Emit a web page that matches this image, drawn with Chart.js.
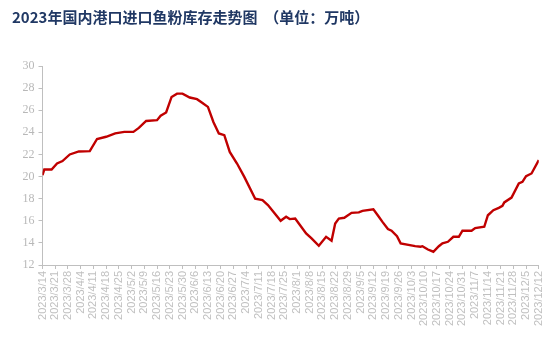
<!DOCTYPE html>
<html>
<head>
<meta charset="utf-8">
<script src="https://cdn.jsdelivr.net/npm/chart.js@4"></script>
<style>
  html, body { margin: 0; padding: 0; background: #fff; }
  #wrap { width: 554px; height: 339px; }
</style>
</head>
<body>
<div id="wrap"><canvas id="stockChart" width="554" height="339"></canvas></div>
<script>
// days counted from 2023/3/14
const dayOffsets = [0, 1, 5, 8, 11, 15, 20, 26, 30, 35, 40, 45, 50, 53, 57, 63, 65, 68, 71, 74, 77, 81, 85, 88, 91, 94, 97, 100, 103, 107, 111, 117, 121, 124, 131, 134, 136, 139, 141, 145, 148, 152, 156, 159, 161, 163, 166, 170, 174, 176, 182, 185, 187, 190, 192, 195, 197, 205, 208, 209, 212, 215, 218, 220, 223, 226, 229, 231, 236, 238, 243, 245, 248, 251, 253, 254, 258, 262, 264, 266, 269, 273];
const inventory = [20.13, 20.64, 20.64, 21.18, 21.4, 22.0, 22.27, 22.3, 23.4, 23.6, 23.9, 24.04, 24.04, 24.4, 25.03, 25.1, 25.5, 25.8, 27.2, 27.5, 27.5, 27.15, 27.0, 26.66, 26.3, 24.94, 23.9, 23.74, 22.23, 21.18, 19.97, 18.0, 17.87, 17.42, 16.0, 16.36, 16.15, 16.2, 15.76, 14.86, 14.4, 13.74, 14.55, 14.2, 15.76, 16.2, 16.27, 16.72, 16.76, 16.9, 17.03, 16.36, 15.9, 15.25, 15.1, 14.6, 13.96, 13.71, 13.65, 13.7, 13.4, 13.2, 13.7, 13.96, 14.1, 14.55, 14.55, 15.1, 15.1, 15.34, 15.46, 16.5, 16.96, 17.17, 17.35, 17.66, 18.1, 19.38, 19.52, 20.04, 20.28, 21.48];
const tickLabels = ["2023/3/14", "2023/3/21", "2023/3/28", "2023/4/4", "2023/4/11", "2023/4/18", "2023/4/25", "2023/5/2", "2023/5/9", "2023/5/16", "2023/5/23", "2023/5/30", "2023/6/6", "2023/6/13", "2023/6/20", "2023/6/27", "2023/7/4", "2023/7/11", "2023/7/18", "2023/7/25", "2023/8/1", "2023/8/8", "2023/8/15", "2023/8/22", "2023/8/29", "2023/9/5", "2023/9/12", "2023/9/19", "2023/9/26", "2023/10/3", "2023/10/10", "2023/10/17", "2023/10/24", "2023/10/31", "2023/11/7", "2023/11/14", "2023/11/21", "2023/11/28", "2023/12/5", "2023/12/12"];

const axisGray = "#bfbfbf";

const ctx = document.getElementById("stockChart").getContext("2d");
new Chart(ctx, {
    type: "line",
    data: {
        datasets: [{
            label: "鱼粉库存",
            data: dayOffsets.map((d, i) => ({ x: d, y: inventory[i] })),
            borderColor: "#c00000",
            borderWidth: 2.4,
            pointRadius: 0,
            fill: false,
            tension: 0
        }]
    },
    options: {
        responsive: false,
        animation: false,
        layout: { padding: { left: 12, right: 10, top: 0, bottom: 0 } },
        scales: {
            x: {
                type: "linear",
                min: 0,
                max: 273,
                afterFit: (scale) => { scale.height = 74; },
                ticks: {
                    stepSize: 7,
                    autoSkip: false,
                    minRotation: 90,
                    maxRotation: 90,
                    padding: 2,
                    color: "#c0c0c0",
                    font: { family: "'Liberation Sans', Arial, sans-serif", size: 11 },
                    callback: (v) => tickLabels[Math.round(v / 7)]
                },
                grid: { drawOnChartArea: false, color: axisGray, tickLength: 4 },
                border: { color: axisGray }
            },
            y: {
                min: 12,
                max: 30,
                afterFit: (scale) => { scale.width = 30.5; },
                ticks: {
                    stepSize: 2,
                    padding: 4,
                    color: "#b8b8b8",
                    font: { family: "'Liberation Serif', 'Times New Roman', serif", size: 12 }
                },
                grid: { drawOnChartArea: false, color: axisGray, tickLength: 4 },
                border: { color: axisGray }
            }
        },
        plugins: {
            legend: { display: false },
            tooltip: { enabled: false },
            title: {
                display: true,
                align: "start",
                text: "2023年国内港口进口鱼粉库存走势图  （单位：万吨）",
                color: "#203864",
                font: { family: "'Noto Sans CJK SC', sans-serif", size: 15, weight: "bold" },
                padding: { top: 8, bottom: 40 }
            }
        }
    }
});
</script>
</body>
</html>
